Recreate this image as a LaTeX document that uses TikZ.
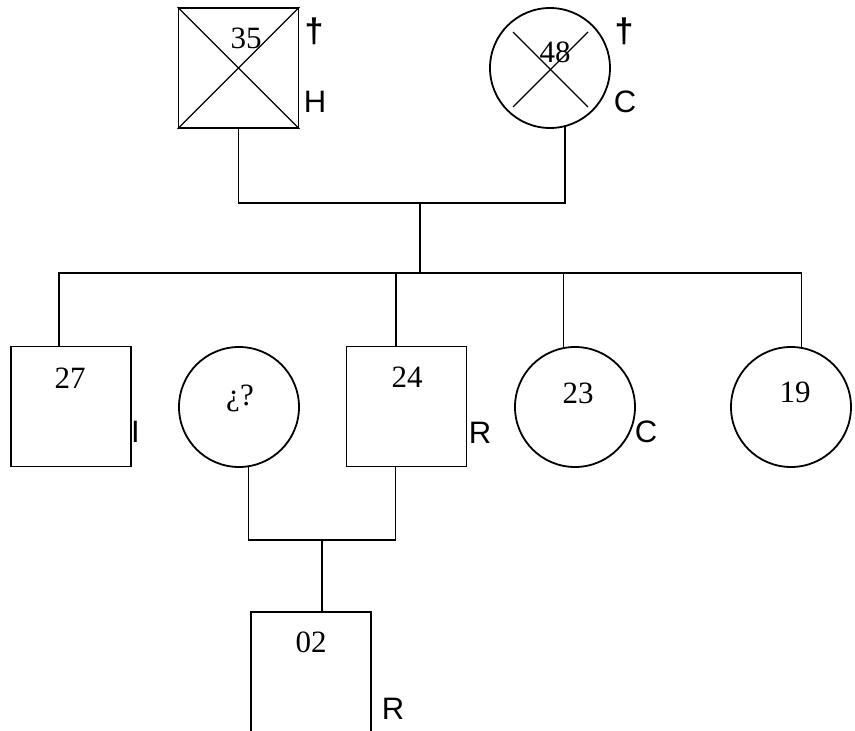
\documentclass[tikz,border=0pt]{standalone}
\usepackage{fontspec}
\setmainfont{Liberation Serif}
\newfontfamily\arialf{Liberation Sans}
\usetikzlibrary{calc}
\begin{document}
\begin{tikzpicture}[x=1pt,y=-1pt,
  person/.style={draw, line width=1.8pt, inner sep=0pt},
  male/.style={person, rectangle, minimum size=120pt},
  female/.style={person, circle, minimum size=120pt},
  num/.style={font=\fontsize{31}{31}\selectfont, inner sep=0pt},
  lbl/.style={font=\arialf\fontsize{31}{31}\selectfont, inner sep=0pt},
  dagger/.style={font=\arialf\bfseries\fontsize{34}{34}\selectfont, inner sep=0pt},
  link/.style={line width=1.6pt},
  cross/.style={line width=1.4pt}]
\useasboundingbox (0,0) rectangle (855,731);
% grandparents
\node[male]   (sq35) at (238.5,68) {};
\node[female] (c48)  at (550,68) {};
\draw[cross] (sq35.north west) -- (sq35.south east);
\draw[cross] (sq35.north east) -- (sq35.south west);
\draw[cross] ($(c48.center)+(-37,-36)$) -- ($(c48.center)+(38,39)$);
\draw[cross] ($(c48.center)+(38,-36)$) -- ($(c48.center)+(-37,39)$);
\node[num] (t35) at (246,38) {35};
\node[num] (t48) at (555,52) {48};
\node[dagger] (d35) at (314,31) {†};
\node[lbl] (h35) at (315,102) {H};
\node[dagger] (d48) at (624,31) {†};
\node[lbl] (c48l) at (625,102) {C};
% children
\node[male]   (sq27) at (71,406.5) {};
\node[female] (cq)   at (239,407) {};
\node[male]   (sq24) at (406.5,406.5) {};
\node[female] (c23)  at (575,407) {};
\node[female] (c19)  at (791,407) {};
\node[num] (t27) at (70,378) {27};
\node[num] (tq)  at (240,398) {¿?};
\node[num] (t24) at (407,377) {24};
\node[num] (t23) at (578,393) {23};
\node[num] (t19) at (795,392) {19};
\node[lbl] (l27) at (135.5,432) {I};
\node[lbl] (l24) at (480,433) {R};
\node[lbl] (l23) at (646,432) {C};
% grandchild
\node[male] (sq02) at (311,672) {};
\node[num] (t02) at (311,642) {02};
\node[lbl] (l02) at (393,709) {R};
% connectors
\coordinate (m1) at (420,203);
\coordinate (s1) at (420,273);
\coordinate (m2) at (322,540);
\coordinate (d27) at ($(sq27.north)+(-12,0)$);
\coordinate (d24) at ($(sq24.north)+(-10.5,0)$);
\coordinate (u24) at ($(sq24.south)+(-11,0)$);
\draw[link] (sq35.south) |- (m1) -| (c48.-76);
\draw[link] (m1) -- (s1);
\draw[link] (d27) |- (s1) -| (c19.80);
\draw[link] (d24) -- (d24 |- s1);
\draw[link] (c23.101) -- (c23.101 |- s1);
\draw[link] (cq.-81) |- (m2) -| (u24);
\draw[link] (m2) -- (m2 |- sq02.north);
\end{tikzpicture}
\end{document}
